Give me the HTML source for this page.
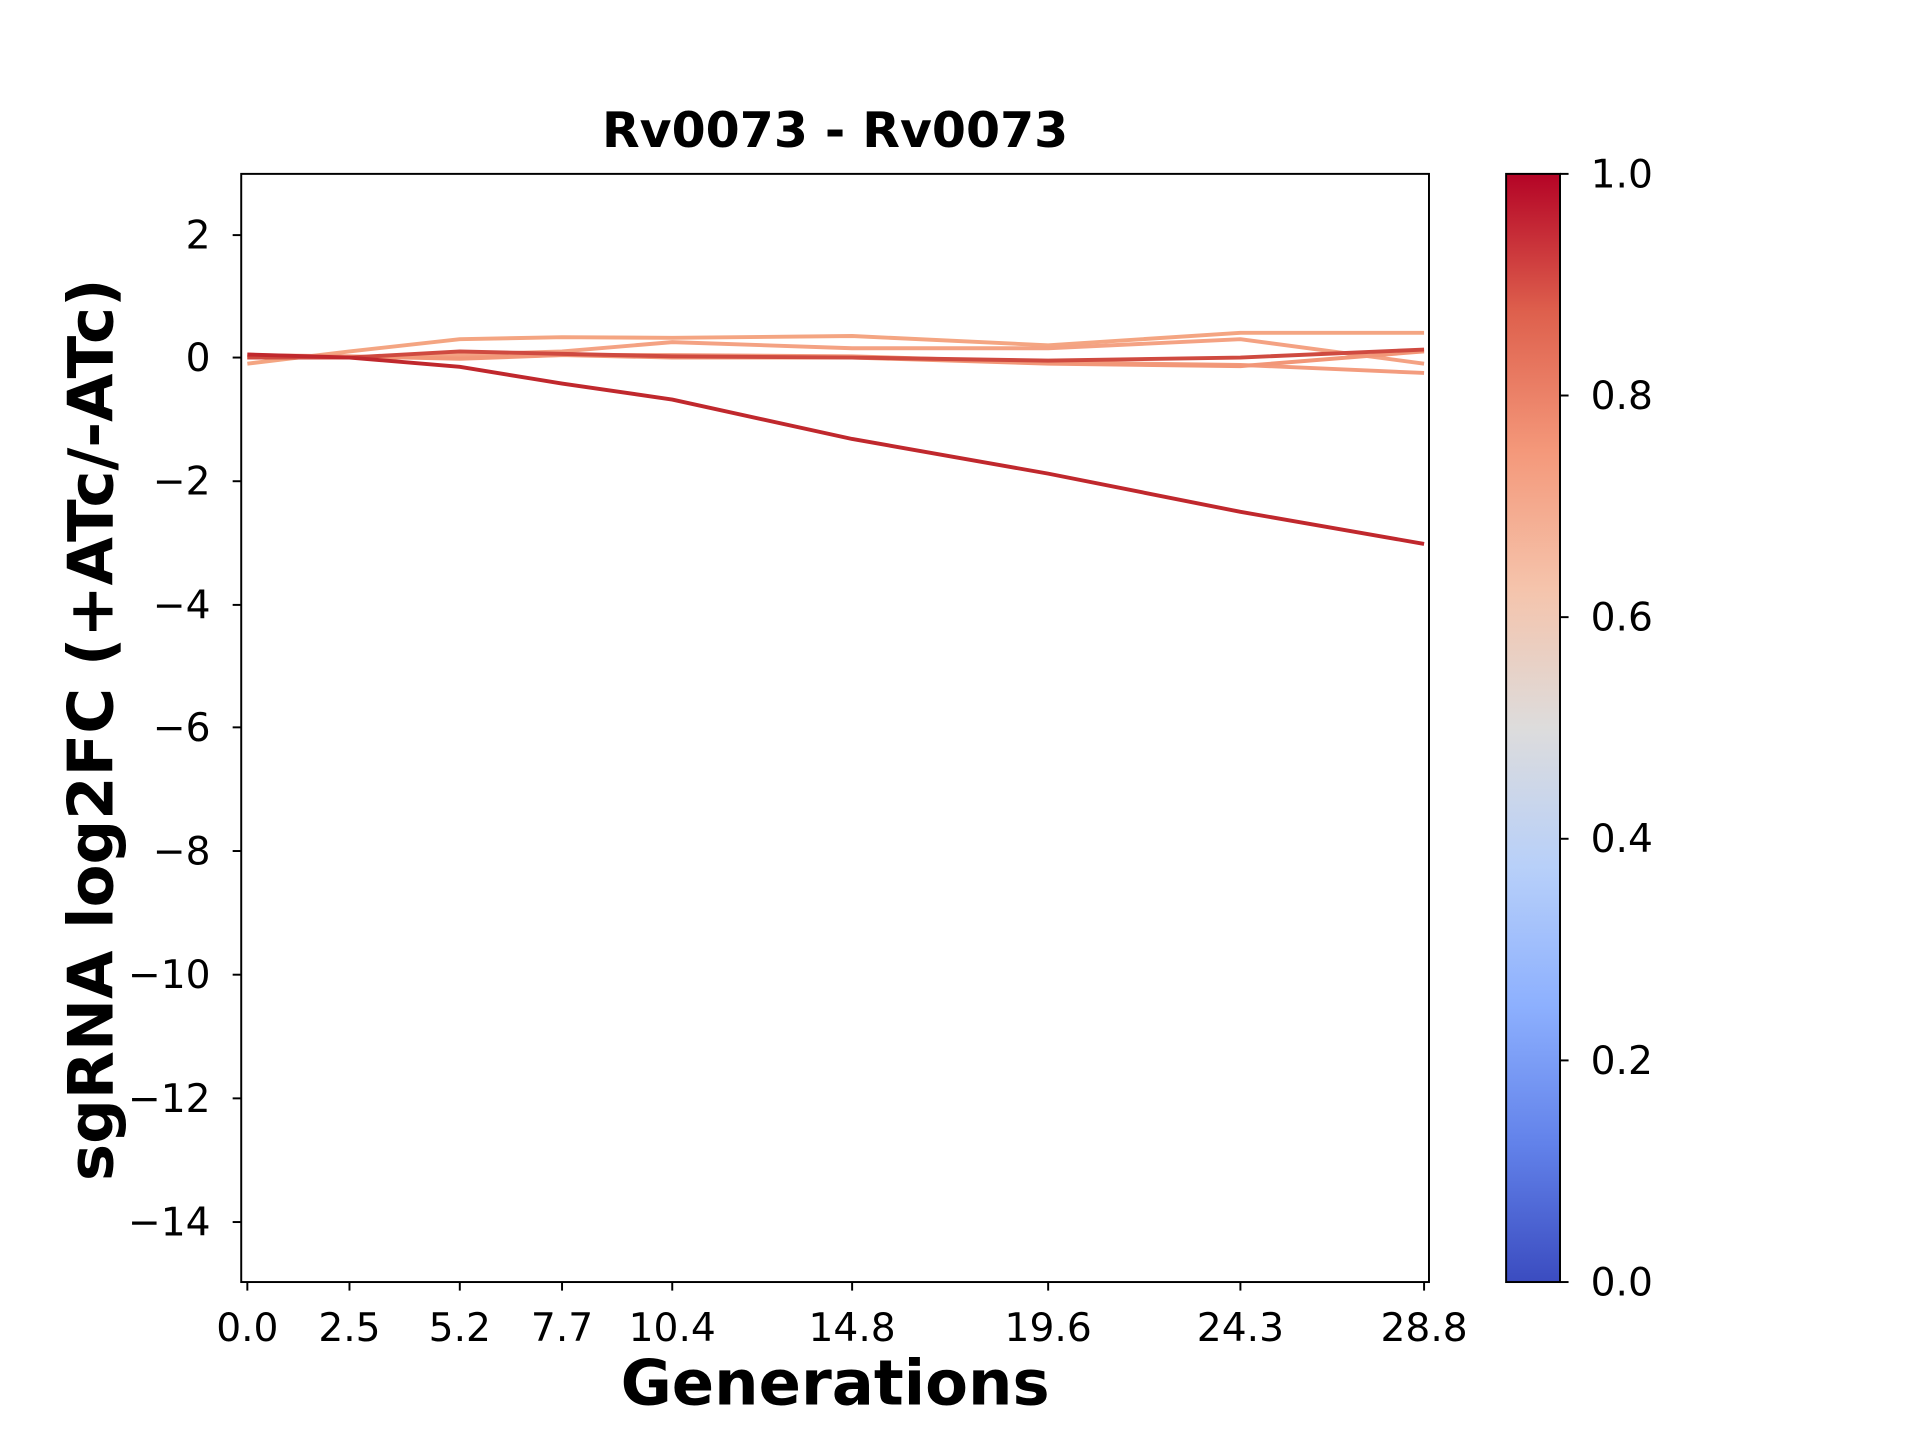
<!DOCTYPE html>
<html><head><meta charset="utf-8"><style>html,body{margin:0;padding:0;background:#fff}svg{display:block}</style></head>
<body>
<svg width="1920" height="1440" viewBox="0 0 1568 1176" xmlns="http://www.w3.org/2000/svg" font-family="'DejaVu Sans','Liberation Sans',sans-serif">
<defs>
<linearGradient id="cw" x1="0" y1="1" x2="0" y2="0">
<stop offset="0" stop-color="#3b4cc0"/>
<stop offset="0.125" stop-color="#6282ea"/>
<stop offset="0.25" stop-color="#8db0fe"/>
<stop offset="0.375" stop-color="#b8d0f9"/>
<stop offset="0.5" stop-color="#dddcdc"/>
<stop offset="0.625" stop-color="#f5c4ac"/>
<stop offset="0.75" stop-color="#f4987a"/>
<stop offset="0.875" stop-color="#de604d"/>
<stop offset="1" stop-color="#b40426"/>
</linearGradient>
</defs>
<rect width="1568" height="1176" fill="#fff"/>
<text x="682" y="120" text-anchor="middle" font-weight="bold" font-size="40">Rv0073 - Rv0073</text>
<g fill="none" stroke-width="3.2" stroke-linejoin="round">
<polyline stroke="#f4a582" points="202,297 285.4,287 375.5,277 459,275.4 549,275.9 695.9,274.4 856,282 1013,271.8 1163,271.8"/>
<polyline stroke="#f4a283" points="202,292 285.4,292 375.5,289.5 459,287 549,279.4 695.9,284.4 856,284.4 1013,277 1163,297"/>
<polyline stroke="#f39c7e" points="202,292 285.4,292 375.5,292 459,290 549,290 695.9,291 856,296 1013,298 1163,304.6"/>
<polyline stroke="#f29778" points="202,290 285.4,291 375.5,293 459,290 549,292 695.9,292 856,297 1013,299 1163,287"/>
<polyline stroke="#cf4a40" points="202,292 285.4,292 375.5,287 459,289 549,291 695.9,292 856,294.5 1013,292 1163,285.5"/>
<polyline stroke="#c0282d" points="202,289.5 285.4,292 375.5,299.6 459,313.2 549,326.3 695.9,358.5 856,386.8 1013,418 1163,444.2"/>
</g>
<rect x="197" y="142" width="970" height="905" fill="none" stroke="#000" stroke-width="1.6"/>
<g stroke="#000" stroke-width="1.6">
<line x1="190" y1="192" x2="197" y2="192"/><line x1="190" y1="292" x2="197" y2="292"/><line x1="190" y1="393" x2="197" y2="393"/><line x1="190" y1="494" x2="197" y2="494"/><line x1="190" y1="594" x2="197" y2="594"/><line x1="190" y1="695" x2="197" y2="695"/><line x1="190" y1="796" x2="197" y2="796"/><line x1="190" y1="897" x2="197" y2="897"/><line x1="190" y1="998" x2="197" y2="998"/>
<line x1="202" y1="1047" x2="202" y2="1054"/><line x1="285.4" y1="1047" x2="285.4" y2="1054"/><line x1="375.5" y1="1047" x2="375.5" y2="1054"/><line x1="459" y1="1047" x2="459" y2="1054"/><line x1="549" y1="1047" x2="549" y2="1054"/><line x1="695.9" y1="1047" x2="695.9" y2="1054"/><line x1="856" y1="1047" x2="856" y2="1054"/><line x1="1013" y1="1047" x2="1013" y2="1054"/><line x1="1163" y1="1047" x2="1163" y2="1054"/>
</g>
<g font-size="32" text-anchor="end">
<text x="172" y="203">2</text><text x="172" y="303">0</text><text x="172" y="404">−2</text><text x="172" y="505">−4</text><text x="172" y="605">−6</text><text x="172" y="706">−8</text><text x="172" y="807">−10</text><text x="172" y="908">−12</text><text x="172" y="1009">−14</text>
</g>
<g font-size="32" text-anchor="middle">
<text x="202" y="1095">0.0</text><text x="285.4" y="1095">2.5</text><text x="375.5" y="1095">5.2</text><text x="459" y="1095">7.7</text><text x="549" y="1095">10.4</text><text x="695.9" y="1095">14.8</text><text x="856" y="1095">19.6</text><text x="1013" y="1095">24.3</text><text x="1163" y="1095">28.8</text>
</g>
<text x="682" y="1147" text-anchor="middle" font-weight="bold" font-size="51">Generations</text>
<text transform="translate(92,596) rotate(-90)" text-anchor="middle" font-weight="bold" font-size="51">sgRNA log2FC (+ATc/-ATc)</text>
<rect x="1230" y="142" width="44" height="905" fill="url(#cw)" stroke="#000" stroke-width="1.6"/>
<g stroke="#000" stroke-width="1.6">
<line x1="1274" y1="142" x2="1281" y2="142"/><line x1="1274" y1="323" x2="1281" y2="323"/><line x1="1274" y1="504" x2="1281" y2="504"/><line x1="1274" y1="685" x2="1281" y2="685"/><line x1="1274" y1="866" x2="1281" y2="866"/><line x1="1274" y1="1047" x2="1281" y2="1047"/>
</g>
<g font-size="32">
<text x="1299" y="153">1.0</text><text x="1299" y="334">0.8</text><text x="1299" y="515">0.6</text><text x="1299" y="696">0.4</text><text x="1299" y="877">0.2</text><text x="1299" y="1058">0.0</text>
</g>
</svg>
</body></html>
